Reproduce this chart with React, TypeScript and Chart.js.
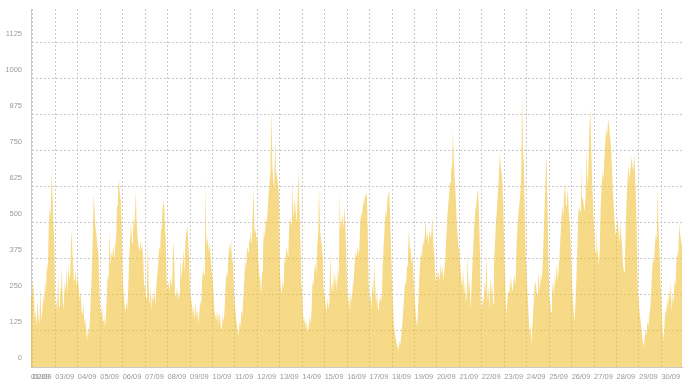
import React, { useEffect, useRef } from "react";
import { Chart, registerables } from "chart.js";

Chart.register(...registerables);

// Month shown on the axis
const MONTH = "09";
// First sample time (hours from 01/09 00:00), hourly samples, last sample time
const START_HOUR = 22;
const STEP_HOURS = 1;
const END_HOUR = 718;

// Y axis tick values
const yTicks = [0, 125, 250, 375, 500, 625, 750, 875, 1000, 1125];
const Y_MAX = 1243;

// Hourly traffic values; first two values are 01/09 22:00 and 23:00
const day01 = [260, 240];
const day02 = [300, 260, 160, 200, 140, 240, 170, 150, 280, 160, 190, 250, 220, 300, 260, 370, 330, 480, 560, 520, 680, 600, 500, 420];
const day03 = [200, 240, 190, 320, 210, 280, 250, 350, 230, 200, 300, 260, 340, 250, 360, 300, 330, 480, 420, 350, 300, 340, 310, 280];
const day04 = [320, 280, 230, 260, 200, 180, 220, 150, 170, 130, 90, 140, 110, 160, 250, 330, 450, 600, 540, 480, 460, 420, 400, 300];
const day05 = [200, 180, 220, 160, 190, 140, 170, 250, 320, 300, 480, 350, 400, 380, 430, 370, 420, 450, 560, 620, 650, 600, 580, 480];
const day06 = [300, 260, 220, 190, 230, 200, 280, 380, 450, 500, 430, 540, 480, 520, 610, 500, 450, 420, 400, 440, 410, 420, 380, 280];
const day07 = [280, 240, 300, 430, 260, 220, 280, 200, 250, 230, 270, 210, 280, 320, 360, 420, 400, 480, 520, 560, 580, 510, 450, 300];
const day08 = [270, 300, 260, 320, 280, 300, 440, 380, 260, 240, 280, 230, 260, 240, 380, 300, 360, 410, 320, 430, 470, 490, 440, 380];
const day09 = [270, 240, 220, 180, 210, 160, 230, 170, 200, 150, 190, 230, 210, 300, 340, 320, 660, 480, 420, 450, 400, 430, 380, 340];
const day10 = [310, 260, 200, 180, 160, 200, 150, 190, 170, 140, 130, 180, 160, 200, 280, 330, 310, 380, 430, 400, 440, 360, 380, 260];
const day11 = [220, 180, 150, 130, 110, 160, 140, 200, 180, 240, 300, 370, 340, 420, 400, 450, 430, 470, 420, 530, 620, 460, 480, 450];
const day12 = [450, 380, 320, 300, 250, 330, 400, 480, 450, 520, 500, 540, 600, 640, 680, 900, 700, 650, 620, 800, 680, 660, 640, 600];
const day13 = [340, 280, 250, 300, 270, 380, 360, 420, 400, 380, 480, 520, 500, 650, 560, 520, 590, 540, 500, 580, 680, 560, 450, 300];
const day14 = [250, 180, 150, 170, 130, 160, 120, 140, 180, 150, 200, 300, 280, 340, 360, 320, 420, 460, 620, 480, 440, 420, 380, 260];
const day15 = [250, 220, 190, 240, 200, 230, 400, 260, 300, 250, 340, 280, 320, 260, 350, 300, 600, 480, 500, 530, 480, 560, 500, 400];
const day16 = [280, 220, 250, 190, 260, 230, 280, 300, 360, 400, 380, 420, 390, 410, 500, 540, 520, 580, 560, 600, 590, 610, 480, 300];
const day17 = [220, 260, 200, 300, 240, 360, 280, 220, 260, 200, 240, 220, 250, 230, 350, 420, 480, 540, 520, 580, 600, 610, 520, 400];
const day18 = [300, 220, 150, 120, 100, 80, 70, 60, 90, 80, 120, 150, 200, 250, 300, 280, 350, 380, 480, 420, 400, 360, 380, 320];
const day19 = [260, 200, 160, 140, 220, 300, 360, 400, 380, 440, 420, 460, 510, 440, 470, 420, 480, 450, 460, 520, 440, 400, 330, 300];
const day20 = [340, 310, 330, 300, 360, 320, 350, 300, 340, 380, 450, 520, 560, 600, 640, 700, 680, 820, 720, 660, 600, 520, 460, 420];
const day21 = [400, 350, 300, 280, 340, 250, 300, 220, 260, 400, 250, 300, 200, 280, 360, 430, 500, 540, 560, 600, 620, 520, 400, 220];
const day22 = [200, 250, 220, 300, 260, 400, 230, 280, 200, 320, 250, 300, 220, 360, 420, 500, 540, 600, 650, 740, 700, 680, 640, 560];
const day23 = [400, 300, 180, 220, 260, 300, 250, 320, 280, 260, 300, 320, 280, 420, 480, 530, 560, 600, 650, 950, 760, 700, 520, 380];
const day24 = [320, 250, 180, 120, 150, 80, 140, 200, 260, 300, 280, 250, 330, 300, 260, 320, 300, 350, 450, 550, 650, 740, 600, 420];
const day25 = [250, 220, 190, 260, 300, 240, 330, 280, 360, 300, 340, 380, 450, 510, 560, 520, 600, 640, 560, 580, 620, 540, 500, 420];
const day26 = [320, 250, 200, 160, 220, 300, 400, 530, 560, 540, 700, 580, 590, 560, 540, 600, 760, 620, 700, 830, 900, 760, 640, 560];
const day27 = [480, 400, 510, 380, 420, 350, 400, 550, 620, 680, 650, 720, 780, 830, 800, 860, 840, 800, 770, 700, 620, 560, 500, 460];
const day28 = [470, 520, 480, 430, 500, 460, 420, 350, 330, 380, 500, 600, 660, 700, 650, 690, 730, 700, 680, 740, 660, 560, 400, 250];
const day29 = [220, 180, 150, 120, 90, 70, 100, 130, 110, 160, 140, 180, 200, 260, 330, 380, 360, 420, 460, 440, 620, 480, 400, 300];
const day30 = [220, 150, 90, 130, 200, 180, 240, 200, 270, 230, 300, 190, 260, 220, 300, 280, 360, 400, 380, 500, 460, 440, 420];

const series = [
  ...day01, ...day02, ...day03, ...day04, ...day05, ...day06, ...day07,
  ...day08, ...day09, ...day10, ...day11, ...day12, ...day13, ...day14,
  ...day15, ...day16, ...day17, ...day18, ...day19, ...day20, ...day21,
  ...day22, ...day23, ...day24, ...day25, ...day26, ...day27, ...day28,
  ...day29, ...day30,
];

const FILL = "rgba(242, 193, 57, 0.6)";
const GRID = "#c9c9c9";
const TEXT = "#9a9a9a";
const FONT = { family: "'Liberation Sans', Arial, sans-serif", size: 7.5 };

export default function App() {
  const ref = useRef<HTMLCanvasElement | null>(null);

  useEffect(() => {
    document.body.style.margin = "0";
    const canvas = ref.current;
    if (!canvas) return;
    const points = series.map((v, i) => ({ x: START_HOUR + i * STEP_HOURS, y: v }));
    const chart = new Chart(canvas, {
      type: "line",
      data: {
        datasets: [
          {
            data: points,
            fill: "origin",
            backgroundColor: FILL,
            borderWidth: 0,
            pointRadius: 0,
            tension: 0,
          },
        ],
      },
      options: {
        animation: false,
        responsive: false,
        devicePixelRatio: 1,
        layout: { padding: { top: 9, right: 5, left: 0, bottom: 0 } },
        plugins: { legend: { display: false }, tooltip: { enabled: false } },
        scales: {
          x: {
            type: "linear",
            min: START_HOUR,
            max: END_HOUR,
            afterBuildTicks: (scale: any) => {
              const t = [{ value: START_HOUR }];
              for (let h = 24; h < END_HOUR; h += 24) t.push({ value: h });
              scale.ticks = t;
            },
            afterFit: (scale: any) => {
              scale.height = 19;
              scale.paddingLeft = 0;
              scale.paddingRight = 0;
            },
            grid: { color: GRID, drawTicks: false, lineWidth: 1 },
            border: { display: true, color: GRID, dash: [2, 2] },
            ticks: {
              autoSkip: false,
              maxRotation: 0,
              align: "start",
              padding: 5,
              color: TEXT,
              font: FONT,
              callback: (v: any) => {
                const d = Math.floor(Number(v) / 24) + 1;
                return (d < 10 ? "0" + d : String(d)) + "/" + MONTH;
              },
            },
          },
          y: {
            min: 0,
            max: Y_MAX,
            afterBuildTicks: (scale: any) => {
              scale.ticks = yTicks.map((v) => ({ value: v }));
            },
            afterFit: (scale: any) => {
              scale.width = 31;
              scale.paddingTop = 0;
              scale.paddingBottom = 0;
            },
            grid: { color: GRID, drawTicks: false, lineWidth: 1 },
            border: { display: true, color: GRID, dash: [2, 2] },
            ticks: {
              padding: 9,
              labelOffset: -9.5,
              color: TEXT,
              font: FONT,
              callback: (v: any) => String(v),
            },
          },
        },
      },
    } as any);
    return () => chart.destroy();
  }, []);

  return (
    <div style={{ width: 687, height: 386 }}>
      <canvas ref={ref} width={687} height={386} />
    </div>
  );
}
